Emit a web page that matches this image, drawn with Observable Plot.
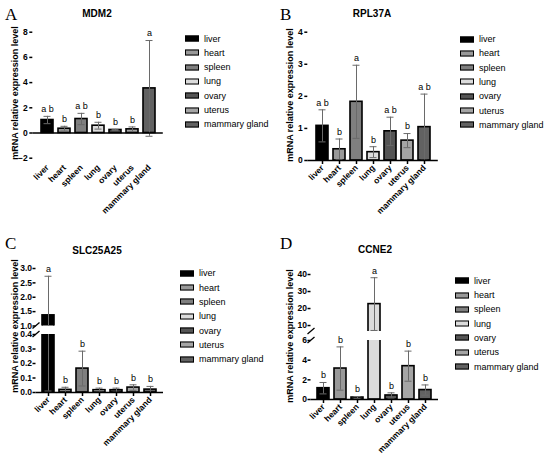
<!DOCTYPE html>
<html><head><meta charset="utf-8">
<script src="https://cdn.jsdelivr.net/npm/d3@7"></script>
<script src="https://cdn.jsdelivr.net/npm/@observablehq/plot@0.6"></script>
<style>
body{margin:0;background:#fff;}
#root{position:relative;width:550px;height:458px;background:#fff;font-family:"Liberation Sans",Arial,sans-serif;overflow:hidden;color:#000}
.panel{position:absolute;width:275px;height:229px}
.panel svg{position:absolute;left:0;top:0}
.plabel{position:absolute;font-family:"Liberation Serif","Times New Roman",serif;font-size:17px;line-height:1;transform:translateY(-50%)}
.title{position:absolute;font-weight:bold;font-size:10px;line-height:1;transform:translate(-50%,-50%);white-space:nowrap}
.ylab{position:absolute;font-weight:bold;font-size:9px;line-height:1;white-space:nowrap;transform:translate(-50%,-50%) rotate(-90deg)}
.lrow{position:absolute;white-space:nowrap;display:flex;align-items:center;font-size:9px;line-height:1;transform:translateY(-50%)}
.sw{width:12px;height:4px;border:1px solid #000;margin-right:5px}
</style></head><body><div id="root"></div><script>
// categories and colours
const tissues = ["liver","heart","spleen","lung","ovary","uterus","mammary gland"];
const tissueColors = ["#000000","#999999","#7f7f7f","#dcdcdc","#555555","#a5a5a5","#626262"];

// A: MDM2
const mdm2Mean = [1.03,0.34,1.11,0.58,0.24,0.29,3.54];
const mdm2Err  = [0.29,0.19,0.45,0.27,0.05,0.19,3.8];
const mdm2Letters = ["a b","b","a b","b","b","b","a"];
const mdm2Ticks = [-2,0,2,4,6,8];

// B: RPL37A
const rplMean = [1.08,0.35,1.83,0.26,0.91,0.62,1.04];
const rplErr  = [0.5,0.32,1.14,0.17,0.44,0.22,1.03];
const rplLetters = ["a b","b","a","b","a b","b","a b"];
const rplTicks = [0,1,2,3,4];

// C: SLC25A25 (broken axis)
const slcMean = [1.37,0.018,0.165,0.016,0.016,0.034,0.02];
const slcErr  = [1.36,0.018,0.12,0.014,0.014,0.019,0.022];
const slcLetters = ["a","b","b","b","b","b","b"];
const slcTicksUpper = [1.0,1.5,2.0,2.5,3.0];
const slcTicksLower = [0.0,0.1,0.2,0.3,0.4];

// D: CCNE2 (broken axis)
const ccnMean = [1.15,3.15,0.2,22.6,0.41,3.39,0.96];
const ccnErr  = [0.58,2.2,0.1,15.5,0.27,1.53,0.52];
const ccnLetters = ["b","b","b","a","b","b","b"];
const ccnTicksUpper = [10,20,30,40];
const ccnTicksLower = [0,2,4,6];

const yLabel = "mRNA relative expression level";
const root = document.getElementById("root");

function rows(mean, err, letters){
  return tissues.map((t,i)=>({tissue:t, mean:mean[i], lo:mean[i]-err[i], hi:mean[i]+err[i], letter:letters[i]}));
}

function segmentPlot(data, seg, frame){
  const inDomain = d => d.hi >= seg.domain[0] && d.hi <= seg.domain[1];
  const err = "#6a6a6a";
  const marks = [
    Plot.barY(data, {x:"tissue", y1:0, y2:"mean", fill:"tissue", stroke:"#000", strokeWidth:1.6, clip:true}),
    Plot.ruleX(data, {x:"tissue", y1:"lo", y2:"hi", stroke:err, strokeWidth:1, clip:true}),
    Plot.tickY(data, {x:"tissue", y:"hi", stroke:err, strokeWidth:1, insetLeft:2.5, insetRight:2.5, clip:true}),
    Plot.tickY(data, {x:"tissue", y:"lo", stroke:err, strokeWidth:1, insetLeft:2.5, insetRight:2.5, clip:true}),
    Plot.text(data, {filter:inDomain, x:"tissue", y:"hi", text:"letter", dy:-7, fontWeight:"normal", fontSize:9}),
    Plot.axisY({ticks:seg.ticks, tickFormat:d3.format(seg.format), tickSize:3, tickPadding:frame.tickPad, strokeWidth:1.5, fontSize:8.5, fontWeight:"bold", line:true, label:null})
  ];
  if (seg.zero) marks.push(Plot.ruleY([0], {stroke:"#000", strokeWidth:1.5}));
  if (seg.xAxis) marks.push(Plot.axisX({tickRotate:-45, tickSize:seg.xTick, tickPadding:seg.xPad, strokeWidth:1.5, fontSize:8.5, fontWeight:"bold", label:null}));
  return Plot.plot({
    width:275, height:229,
    marginLeft:frame.left, marginRight:275-frame.left-frame.span, marginTop:seg.top, marginBottom:229-seg.bottom,
    style:{background:"transparent", overflow:"visible", fontFamily:"'Liberation Sans', Arial, sans-serif", fontSize:"8.5px", fontWeight:"bold", color:"#000"},
    x:{domain:tissues, paddingInner:0.32, paddingOuter:frame.outer, axis:null},
    y:{domain:seg.domain, axis:null},
    color:{domain:tissues, range:tissueColors},
    marks
  });
}

function addPanel(px, py, letter, title, titleX, titleY, data, segs, frame, ylabY, legendY0, legendX, breaks){
  const p = document.createElement("div");
  p.className = "panel"; p.style.left = px+"px"; p.style.top = py+"px";
  root.appendChild(p);
  segs.forEach(s => p.appendChild(segmentPlot(data, s, frame)));
  if (breaks){
    const ns = "http://www.w3.org/2000/svg";
    const svg = document.createElementNS(ns, "svg");
    svg.setAttribute("width", 275); svg.setAttribute("height", 229);
    svg.style.position = "absolute"; svg.style.left = "0"; svg.style.top = "0"; svg.style.overflow = "visible";
    breaks.forEach(yb => {
      const l = document.createElementNS(ns, "line");
      l.setAttribute("x1", frame.left-3); l.setAttribute("y1", yb+3);
      l.setAttribute("x2", frame.left+4); l.setAttribute("y2", yb-3);
      l.setAttribute("stroke", "#000"); l.setAttribute("stroke-width", 1.3);
      svg.appendChild(l);
    });
    p.appendChild(svg);
  }
  const L = document.createElement("div"); L.className = "plabel"; L.textContent = letter;
  L.style.left = "5px"; L.style.top = "14px"; p.appendChild(L);
  const T = document.createElement("div"); T.className = "title"; T.textContent = title;
  T.style.left = titleX+"px"; T.style.top = titleY+"px"; p.appendChild(T);
  const Y = document.createElement("div"); Y.className = "ylab"; Y.textContent = yLabel;
  Y.style.left = "15px"; Y.style.top = ylabY+"px"; p.appendChild(Y);
  tissues.forEach((t,i) => {
    const r = document.createElement("div"); r.className = "lrow";
    r.style.left = legendX+"px"; r.style.top = (legendY0 + i*14.3)+"px";
    const sw = document.createElement("div"); sw.className = "sw"; sw.style.background = tissueColors[i];
    const tx = document.createElement("span"); tx.textContent = t;
    r.appendChild(sw); r.appendChild(tx); p.appendChild(r);
  });
}

const frameAB = {left:32.3, span:130.5, outer:0.32, tickPad:2};
const frameCD = {left:35.5, span:127.5, outer:0.29, tickPad:1};

addPanel(0, 0, "A", "MDM2", 97, 14, rows(mdm2Mean, mdm2Err, mdm2Letters),
  [{domain:[-2,8], ticks:mdm2Ticks, format:"d", top:31.7, bottom:157.7, zero:true, xAxis:true, xTick:0, xPad:8}],
  frameAB, 93, 38.5, 185);

addPanel(275, 0, "B", "RPL37A", 97, 14, rows(rplMean, rplErr, rplLetters),
  [{domain:[0,4], ticks:rplTicks, format:"d", top:31.7, bottom:160, zero:true, xAxis:true, xTick:4, xPad:2}],
  frameAB, 95, 39, 185);

addPanel(0, 229, "C", "SLC25A25", 97, 21.7, rows(slcMean, slcErr, slcLetters),
  [{domain:[1.0,3.0], ticks:slcTicksUpper, format:".1f", top:39, bottom:96.5},
   {domain:[0,0.4], ticks:slcTicksLower, format:".1f", top:105, bottom:163, zero:true, xAxis:true, xTick:4, xPad:2}],
  frameCD, 96.5, 44.3, 180, [96.5, 105]);

addPanel(275, 229, "D", "CCNE2", 100, 20.7, rows(ccnMean, ccnErr, ccnLetters),
  [{domain:[6.5,40], ticks:ccnTicksUpper, format:"d", top:45, bottom:102},
   {domain:[0,6], ticks:ccnTicksLower, format:"d", top:111, bottom:170, zero:true, xAxis:true, xTick:4, xPad:2}],
  frameCD, 106.7, 51.7, 180, [102, 111]);
</script></body></html>
